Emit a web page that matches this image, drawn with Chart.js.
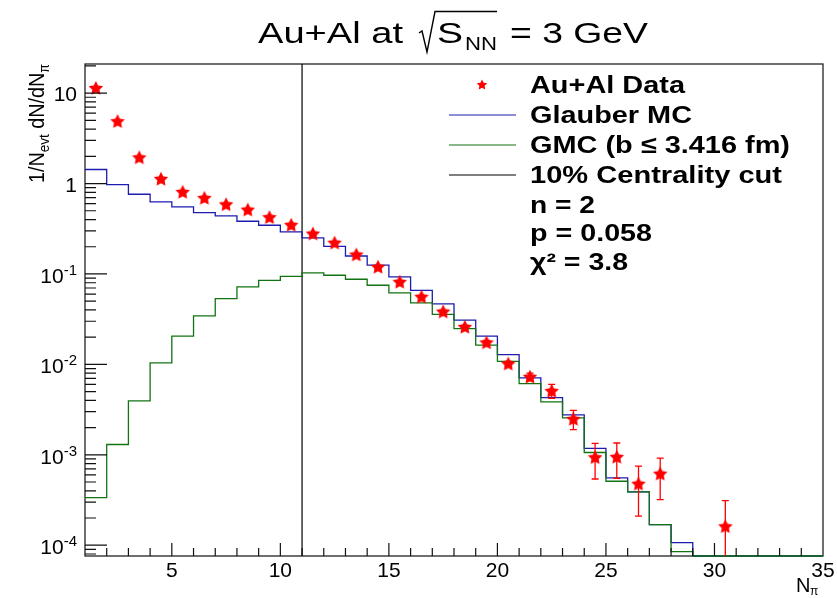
<!DOCTYPE html>
<html>
<head>
<meta charset="utf-8">
<script src="https://cdn.jsdelivr.net/npm/chart.js@4.4.0/dist/chart.umd.min.js"></script>
<style>
  html, body { margin: 0; padding: 0; background: #fff; }
</style>
</head>
<body>
<canvas id="chart" width="837" height="598"></canvas>
<script>
// bin edges of the N_pi histograms (unit bins from 1 to 35)
const binEdges = [1, 2, 3, 4, 5, 6, 7, 8, 9, 10, 11, 12, 13, 14, 15, 16, 17, 18,
                  19, 20, 21, 22, 23, 24, 25, 26, 27, 28, 29, 30, 31, 32, 33, 34, 35];

// Glauber MC, one value per bin
const glauberMC = [1.43, 0.975, 0.762, 0.627, 0.552, 0.478, 0.439, 0.383, 0.346, 0.292,
                   0.251, 0.202, 0.158, 0.125, 0.0928, 0.066, 0.0467, 0.0308, 0.0205, 0.0128,
                   0.0071, 0.0043, 0.00276, 0.00118, 0.000555, 0.000389, 0.000169, 0.000107,
                   0, 0, 0, 0, 0, 0];

// GMC with b <= 3.416 fm, one value per bin
const gmcCentral = [0.000336, 0.0013, 0.00395, 0.0104, 0.0205, 0.0344, 0.0535, 0.072, 0.0851, 0.094,
                    0.103, 0.0968, 0.0874, 0.075, 0.0618, 0.0479, 0.0358, 0.0249, 0.0163, 0.0108,
                    0.00613, 0.00385, 0.00256, 0.00106, 0.00051, 0.000389, 0.000169, 0.000085,
                    0, 0, 0, 0, 0, 0];

// Au+Al data points
const dataX = [1.5, 2.5, 3.5, 4.5, 5.5, 6.5, 7.5, 8.5, 9.5, 10.5, 11.5, 12.5, 13.5, 14.5,
               15.5, 16.5, 17.5, 18.5, 19.5, 20.5, 21.5, 22.5, 23.5, 24.5, 25.5, 26.5, 27.5, 30.5];
const dataY = [11.4, 4.9, 1.95, 1.13, 0.81, 0.695, 0.59, 0.515, 0.425, 0.35, 0.28, 0.222, 0.164, 0.12,
               0.082, 0.056, 0.0384, 0.026, 0.0175, 0.0102, 0.0073, 0.0051, 0.0025, 0.00094, 0.00095,
               0.00048, 0.00062, 0.000162];
const dataErr = [0.05, 0.03, 0.015, 0.01, 0.008, 0.007, 0.006, 0.005, 0.005, 0.004, 0.004, 0.003, 0.003, 0.002,
                 0.002, 0.0015, 0.0012, 0.001, 0.0008, 0.0006, 0.0007, 0.0009, 0.0006, 0.0004, 0.0004,
                 0.00027, 0.0003, 0.00015];

const centralityCut = 11;   // 10% centrality cut in N_pi
const xMin = 1, xMax = 35;
const yMin = 7.6e-5, yMax = 21;

const xMajorTicks = [5, 10, 15, 20, 25, 30, 35];
const yDecades = [-4, -3, -2, -1, 0, 1];

const legendLines = ["n = 2", "p = 0.058", "\u03c7\u00b2 = 3.8"];

const BLUE = "#1c1cb0";
const GREEN = "#127312";
const RED = "#ff0000";
const FONT = "'Liberation Sans', Arial, sans-serif";

// filled 5-point star (ROOT marker 29)
function starPath(ctx, cx, cy, r) {
    ctx.beginPath();
    for (let i = 0; i < 10; i++) {
        const rr = i % 2 === 0 ? r : r * 0.5;
        const a = -Math.PI / 2 + i * Math.PI / 5;
        const px = cx + rr * Math.cos(a), py = cy + rr * Math.sin(a);
        if (i === 0) ctx.moveTo(px, py); else ctx.lineTo(px, py);
    }
    ctx.closePath();
}
const starImg = document.createElement("canvas");
starImg.width = 16; starImg.height = 16;
(function () {
    const c = starImg.getContext("2d");
    c.fillStyle = RED;
    starPath(c, 8, 8.6, 7.6);
    c.fill();
})();

// text stretched to a given width
function fitText(ctx, s, x, y, font, w, align) {
    ctx.save();
    ctx.font = font;
    const m = ctx.measureText(s).width;
    const sx = w ? w / m : 1;
    ctx.translate(x, y);
    ctx.scale(sx, 1);
    ctx.textAlign = align || "left";
    ctx.fillText(s, 0, 0);
    ctx.restore();
}

// empty bins are drawn on the lower edge, like ROOT does
function histPoints(vals) {
    return binEdges.map((e, i) => {
        const v = vals[Math.min(i, vals.length - 1)];
        return { x: e, y: v > 0 ? v : yMin };
    });
}

const rootStyle = {
    id: "rootStyle",
    beforeDatasetsDraw(chart) {
        // frame under the histograms
        const { ctx, chartArea: a } = chart;
        ctx.save();
        ctx.strokeStyle = "#222";
        ctx.lineWidth = 1.3;
        ctx.strokeRect(a.left, a.top, a.right - a.left, a.bottom - a.top);
        ctx.restore();
    },
    beforeDatasetDraw(chart, args) {
        if (args.index !== 0) return;
        const { ctx, chartArea: a } = chart;
        const xs = chart.scales.x, ys = chart.scales.y;
        ctx.save();
        ctx.beginPath();
        ctx.rect(a.left, a.top, a.right - a.left, a.bottom - a.top);
        ctx.clip();
        ctx.strokeStyle = RED;
        ctx.lineWidth = 1.3;
        dataX.forEach((x, i) => {
            const px = xs.getPixelForValue(x);
            const lo = dataY[i] - dataErr[i];
            const pHi = ys.getPixelForValue(dataY[i] + dataErr[i]);
            const pLo = lo > 0 ? ys.getPixelForValue(lo) : a.bottom + 5;
            ctx.beginPath();
            ctx.moveTo(px, pHi); ctx.lineTo(px, pLo);
            ctx.moveTo(px - 3.5, pHi); ctx.lineTo(px + 3.5, pHi);
            if (lo > 0) { ctx.moveTo(px - 3.5, pLo); ctx.lineTo(px + 3.5, pLo); }
            ctx.stroke();
        });
        ctx.restore();
    },
    afterDraw(chart) {
        const { ctx, chartArea: a } = chart;
        const xs = chart.scales.x, ys = chart.scales.y;
        ctx.save();

        // y ticks
        ctx.lineWidth = 1.2;
        ctx.strokeStyle = "#111";
        ctx.beginPath();
        for (let k = -5; k <= 1; k++) {
            for (let m = 1; m <= 9; m++) {
                const v = m * Math.pow(10, k);
                if (v < yMin || v > yMax) continue;
                const py = ys.getPixelForValue(v);
                ctx.moveTo(a.left, py);
                ctx.lineTo(a.left + (m === 1 ? 22 : 11), py);
            }
        }
        // x ticks
        for (let v = 2; v <= 34; v++) {
            const px = xs.getPixelForValue(v);
            ctx.moveTo(px, a.bottom);
            ctx.lineTo(px, a.bottom - (v % 5 === 0 ? 13 : 8));
        }
        ctx.stroke();

        ctx.fillStyle = "#000";
        // x tick labels
        ctx.font = "21px " + FONT;
        ctx.textAlign = "center";
        xMajorTicks.forEach(v => ctx.fillText(String(v), xs.getPixelForValue(v), 577));

        // y tick labels
        yDecades.forEach(k => {
            const py = ys.getPixelForValue(Math.pow(10, k));
            ctx.textAlign = "right";
            if (k === 0) {
                ctx.font = "21px " + FONT;
                ctx.fillText("1", 77, py + 8);
            } else if (k === 1) {
                ctx.font = "21px " + FONT;
                ctx.fillText("10", 77, py + 8);
            } else {
                const exp = "-" + Math.abs(k);
                ctx.font = "15px " + FONT;
                const we = ctx.measureText(exp).width;
                ctx.fillText(exp, 77, py + 1);
                ctx.font = "21px " + FONT;
                ctx.fillText("10", 77 - we, py + 9);
            }
        });

        // x axis title N_pi
        ctx.textAlign = "left";
        ctx.font = "20px " + FONT;
        ctx.fillText("N", 796, 592);
        ctx.font = "12px " + FONT;
        ctx.fillText("\u03c0", 810, 595);

        // y axis title 1/N_evt dN/dN_pi
        ctx.save();
        const parts = [["1/N", 22, 0], ["evt", 15, 5], [" dN/dN", 22, 0], ["\u03c0", 14, 5]];
        let total = 0;
        parts.forEach(([s, sz]) => { ctx.font = sz + "px " + FONT; total += ctx.measureText(s).width; });
        ctx.translate(44, 183);
        ctx.rotate(-Math.PI / 2);
        ctx.scale(119 / total, 1);
        let cx = 0;
        parts.forEach(([s, sz, dy]) => {
            ctx.font = sz + "px " + FONT;
            ctx.fillText(s, cx, dy);
            cx += ctx.measureText(s).width;
        });
        ctx.restore();

        // title
        const tf = "29px " + FONT;
        fitText(ctx, "Au+Al at", 258, 43, tf, 145);
        fitText(ctx, "S", 437, 43, tf, 26);
        fitText(ctx, "NN", 465, 50, "18px " + FONT, 32);
        fitText(ctx, "= 3 GeV", 510, 43, tf, 138);
        ctx.strokeStyle = "#000";
        ctx.lineWidth = 1.4;
        ctx.beginPath();
        ctx.moveTo(419, 33); ctx.lineTo(422, 31);
        ctx.lineTo(427, 52); ctx.lineTo(435, 11.5); ctx.lineTo(497, 11.5);
        ctx.stroke();

        // legend
        const lf = "bold 24px " + FONT;
        ctx.fillStyle = RED;
        starPath(ctx, 482, 85, 5.5);
        ctx.fill();
        ctx.lineWidth = 1.2;
        [[BLUE, 115], [GREEN, 145], ["#000", 175]].forEach(([c, y]) => {
            ctx.strokeStyle = c;
            ctx.beginPath(); ctx.moveTo(449, y); ctx.lineTo(516, y); ctx.stroke();
        });
        ctx.fillStyle = "#000";
        fitText(ctx, "Au+Al Data", 530, 93, lf, 155);
        fitText(ctx, "Glauber MC", 530, 123, lf, 162);
        fitText(ctx, "GMC (b \u2264 3.416 fm)", 530, 153, lf, 260);
        fitText(ctx, "10% Centrality cut", 530, 183, lf, 252);
        fitText(ctx, legendLines[0], 530, 213, lf, 65);
        fitText(ctx, legendLines[1], 530, 241, lf, 122);
        fitText(ctx, legendLines[2], 530, 270, lf, 98);
        ctx.restore();
    }
};

const ctx = document.getElementById("chart").getContext("2d");

new Chart(ctx, {
    type: "line",
    data: {
        datasets: [
            {
                label: "Au+Al Data",
                data: dataX.map((x, i) => ({ x: x, y: dataY[i] })),
                showLine: false,
                pointStyle: starImg,
                pointRadius: 8,
            },
            {
                label: "GMC (b \u2264 3.416 fm)",
                data: histPoints(gmcCentral),
                stepped: "before",
                borderColor: GREEN,
                borderWidth: 1.3,
                pointRadius: 0,
                fill: false,
                clip: 2,
            },
            {
                label: "Glauber MC",
                data: histPoints(glauberMC),
                stepped: "before",
                borderColor: BLUE,
                borderWidth: 1.3,
                pointRadius: 0,
                fill: false,
                clip: 2,
            },
            {
                label: "10% Centrality cut",
                data: [{ x: centralityCut, y: yMin }, { x: centralityCut, y: yMax }],
                borderColor: "#000",
                borderWidth: 1.2,
                pointRadius: 0,
                fill: false,
            },
        ],
    },
    options: {
        responsive: false,
        animation: false,
        layout: { padding: { left: 85, right: 14, top: 64, bottom: 42 } },
        plugins: {
            legend: { display: false },
            tooltip: { enabled: false },
        },
        scales: {
            x: { type: "linear", min: xMin, max: xMax, display: false },
            y: { type: "logarithmic", min: yMin, max: yMax, display: false },
        },
    },
    plugins: [rootStyle],
});
</script>
</body>
</html>
